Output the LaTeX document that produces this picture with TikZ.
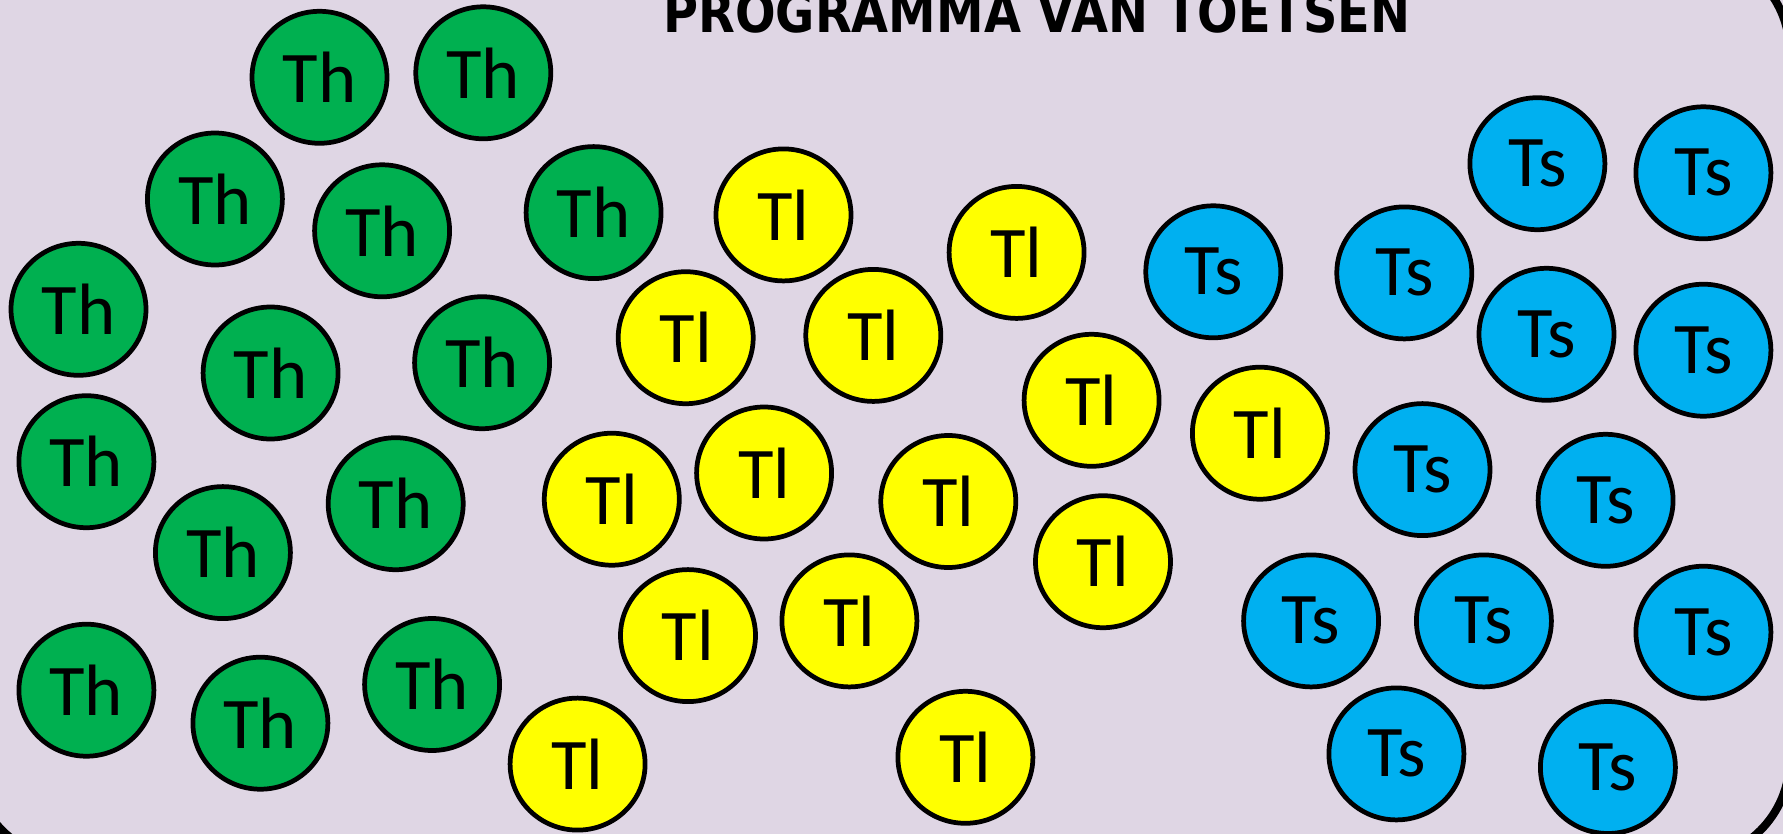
\documentclass[tikz,border=0pt]{standalone}
\usepackage{fontspec}
\setmainfont{Carlito}
\newfontfamily\headfont{DejaVu Sans}
\usepackage{tikz}
\usetikzlibrary{shapes.geometric, positioning}
\definecolor{panellilac}{RGB}{223, 214, 228}
\definecolor{hoggreen}{RGB}{0, 176, 80}
\definecolor{laagyellow}{RGB}{255, 255, 0}
\definecolor{schoolblue}{RGB}{0, 176, 240}

\begin{document}
\begin{tikzpicture}[
    toets/.style={draw, ellipse, line width=1.35pt, minimum width=1.35cm, minimum height=1.32cm, inner sep=0pt, font=\fontsize{20.7pt}{24pt}\selectfont},
    th/.style={toets, fill=hoggreen},
    tl/.style={toets, fill=laagyellow},
    ts/.style={toets, fill=schoolblue}
]

% Panel
\useasboundingbox (0,0) rectangle (17.83,-8.34);
\clip (0,0) rectangle (17.83,-8.34);
\fill[panellilac] (0,0) rectangle (17.83,-8.34);
\draw[line width=2.3pt, rounded corners=1cm, fill=panellilac] (-0.27,0.48) rectangle (17.896,-8.597);

\node[font=\headfont\bfseries\fontsize{13.6pt}{16pt}\selectfont, anchor=base] (title) at (10.37,-0.323) {\scalebox{1}[1.15]{PROGRAMMA VAN TOETSEN}};

% Th toetsen
\node[th] (th1) at (3.195,-0.773) {Th};
\node[th] (th2) at (4.833,-0.728) {Th};
\node[th] (th3) at (2.149,-1.990) {Th};
\node[th] (th4) at (3.821,-2.308) {Th};
\node[th] (th5) at (5.936,-2.126) {Th};
\node[th] (th6) at (0.785,-3.093) {Th};
\node[th] (th7) at (2.706,-3.730) {Th};
\node[th] (th8) at (4.821,-3.627) {Th};
\node[th] (th9) at (0.864,-4.617) {Th};
\node[th] (th10) at (3.957,-5.037) {Th};
\node[th] (th11) at (2.229,-5.526) {Th};
\node[th] (th12) at (0.864,-6.902) {Th};
\node[th] (th13) at (2.604,-7.232) {Th};
\node[th] (th14) at (4.321,-6.845) {Th};

% Tl toetsen
\node[tl] (tl1) at (7.835,-2.149) {Tl};
\node[tl] (tl2) at (10.166,-2.524) {Tl};
\node[tl] (tl3) at (6.857,-3.377) {Tl};
\node[tl] (tl4) at (8.733,-3.354) {Tl};
\node[tl] (tl5) at (10.916,-4.003) {Tl};
\node[tl] (tl6) at (12.599,-4.332) {Tl};
\node[tl] (tl7) at (6.118,-4.992) {Tl};
\node[tl] (tl8) at (7.641,-4.730) {Tl};
\node[tl] (tl9) at (9.483,-5.015) {Tl};
\node[tl] (tl10) at (11.030,-5.617) {Tl};
\node[tl] (tl11) at (6.880,-6.356) {Tl};
\node[tl] (tl12) at (8.494,-6.209) {Tl};
\node[tl] (tl13) at (5.776,-7.641) {Tl};
\node[tl] (tl14) at (9.654,-7.573) {Tl};

% Ts toetsen
\node[ts] (ts1) at (15.374,-1.637) {Ts};
\node[ts] (ts2) at (17.034,-1.728) {Ts};
\node[ts] (ts3) at (12.133,-2.718) {Ts};
\node[ts] (ts4) at (14.043,-2.729) {Ts};
\node[ts] (ts5) at (15.465,-3.343) {Ts};
\node[ts] (ts6) at (17.034,-3.502) {Ts};
\node[ts] (ts7) at (14.225,-4.696) {Ts};
\node[ts] (ts8) at (16.056,-5.003) {Ts};
\node[ts] (ts9) at (13.111,-6.209) {Ts};
\node[ts] (ts10) at (14.839,-6.209) {Ts};
\node[ts] (ts11) at (17.034,-6.322) {Ts};
\node[ts] (ts12) at (13.964,-7.539) {Ts};
\node[ts] (ts13) at (16.079,-7.675) {Ts};

\end{tikzpicture}
\end{document}
